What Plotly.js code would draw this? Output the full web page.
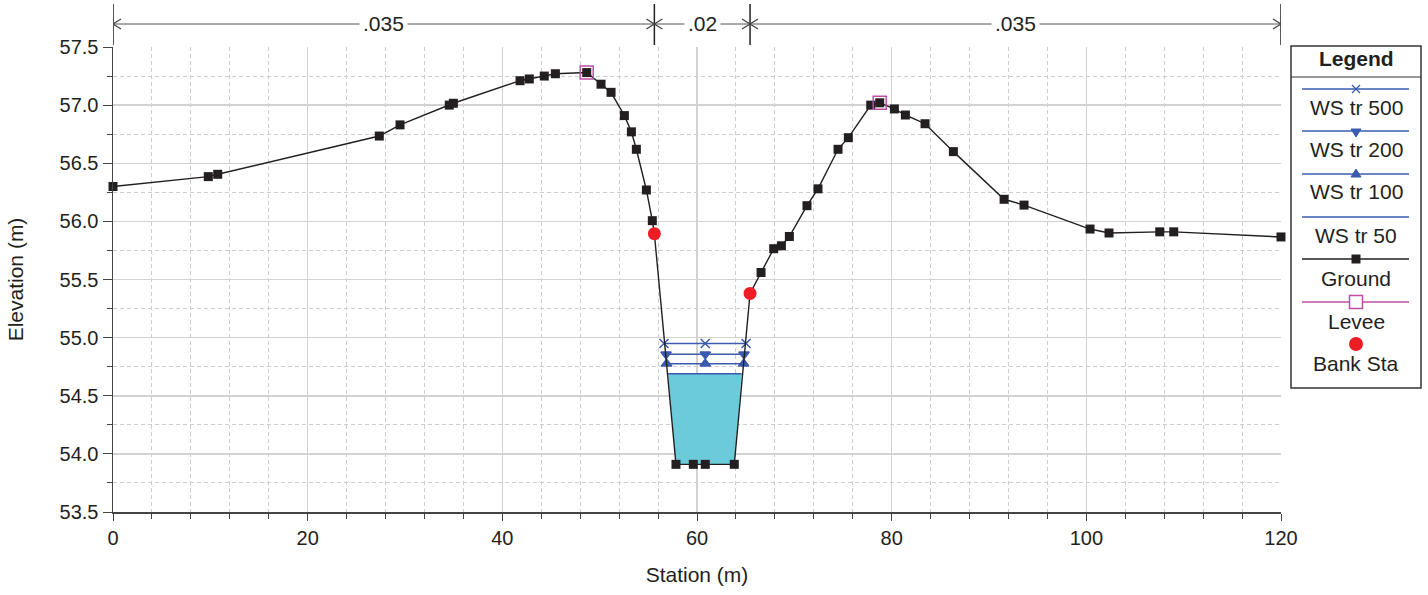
<!DOCTYPE html>
<html>
<head>
<meta charset="utf-8">
<script src="https://cdn.plot.ly/plotly-3.0.1.min.js"></script>
<style>html,body{margin:0;padding:0;background:#fff;}#chart{width:1428px;height:595px;}</style>
</head>
<body>
<div id="chart"></div>
<script>
// ---------------- data ----------------
const groundStation = [0, 9.79, 10.76, 27.36, 29.49, 34.55, 34.97, 41.82, 42.77, 44.31, 45.45, 48.67,
  50.14, 51.17, 52.54, 53.26, 53.77, 54.80, 55.41, 55.62, 57.84, 59.62, 60.85, 63.83, 65.45,
  66.58, 67.88, 68.67, 69.49, 71.30, 72.43, 74.49, 75.55, 77.85, 78.77, 80.28, 81.41, 83.43,
  86.34, 91.55, 93.60, 100.38, 102.33, 107.54, 108.98, 120.0];
const groundElev = [56.30, 56.385, 56.405, 56.734, 56.83, 57.00, 57.016, 57.21, 57.225, 57.25, 57.27, 57.28,
  57.18, 57.11, 56.91, 56.77, 56.62, 56.27, 56.006, 55.894, 53.91, 53.91, 53.91, 53.91, 55.38,
  55.56, 55.765, 55.79, 55.87, 56.135, 56.28, 56.62, 56.72, 57.00, 57.02, 56.967, 56.915, 56.84,
  56.60, 56.19, 56.14, 55.934, 55.90, 55.91, 55.91, 55.866];

const leveeStation = [48.67, 78.77];
const leveeElev = [57.28, 57.02];

const bankStation = [55.62, 65.45];
const bankElev = [55.894, 55.38];

const wsNames = ['WS tr 500', 'WS tr 200', 'WS tr 100', 'WS tr 50'];
const wsElev = [54.95, 54.857, 54.776, 54.69];
const wsLeft = [56.61, 56.82, 56.88, 57.03];
const wsMid = [60.85, 60.85, 60.85, 60.85];
const wsRight = [65.04, 64.83, 64.80, 64.59];

const nValues = [0.035, 0.02, 0.035];
const nBreaks = [0, 55.62, 65.45, 120];

const xTickVals = [0, 20, 40, 60, 80, 100, 120];
const xTickText = ['0', '20', '40', '60', '80', '100', '120'];
const yTickVals = [53.5, 54.0, 54.5, 55.0, 55.5, 56.0, 56.5, 57.0, 57.5];
const yTickText = ['53.5', '54.0', '54.5', '55.0', '55.5', '56.0', '56.5', '57.0', '57.5'];

const legendTitle = 'Legend';
const legendLabels = ['WS tr 500', 'WS tr 200', 'WS tr 100', 'WS tr 50', 'Ground', 'Levee', 'Bank Sta'];

// ---------------- styling ----------------
const FONT = 'Liberation Sans, Arial, Helvetica, sans-serif';
const TXT = '#231F20';
const BLUE = '#3A5BB0';
const WATER = '#6CCBDB';
const GROUND = '#231F20';
const LEVEE = '#BE4FA6';
const BANK = '#EE1C25';
const AXIS = '#444444';
const GRID = '#D2D2D2';
const GRID_MINOR = '#CDCDCD';

const W = 1428, H = 595, L = 113, R = 1281, T = 47, B = 512;
const pxX = x => (x - L) / (R - L);
const pxY = y => (B - y) / (B - T);
const mPerPx = 120 / (R - L);

// ---------------- traces ----------------
const traces = [];

// water fill under WS tr 50
const fillX = [wsLeft[3]], fillY = [wsElev[3]];
for (let i = 0; i < groundStation.length; i++) {
  if (groundStation[i] > wsLeft[3] && groundStation[i] < wsRight[3]) {
    fillX.push(groundStation[i]); fillY.push(groundElev[i]);
  }
}
fillX.push(wsRight[3]); fillY.push(wsElev[3]);
traces.push({x: fillX, y: fillY, mode: 'lines', fill: 'toself', fillcolor: WATER,
  line: {width: 0, color: WATER}, hoverinfo: 'skip', showlegend: false});

const wsSymbols = ['x-thin-open', 'triangle-down', 'triangle-up', null];
for (let k = 0; k < 4; k++) {
  const t = {x: [wsLeft[k], wsMid[k], wsRight[k]], y: [wsElev[k], wsElev[k], wsElev[k]],
    name: wsNames[k], line: {color: BLUE, width: 1.5}, showlegend: false, cliponaxis: false};
  if (wsSymbols[k]) {
    t.mode = 'lines+markers';
    t.marker = {symbol: wsSymbols[k], size: 9, color: BLUE, line: {color: BLUE, width: 1.5}};
  } else t.mode = 'lines';
  traces.push(t);
}

traces.push({x: groundStation, y: groundElev, name: 'Ground', mode: 'lines+markers',
  line: {color: GROUND, width: 1.4}, marker: {symbol: 'square', size: 9, color: GROUND},
  cliponaxis: false, showlegend: false});

traces.push({x: leveeStation, y: leveeElev, name: 'Levee', mode: 'markers',
  marker: {symbol: 'square-open', size: 13, color: LEVEE, line: {width: 1.5, color: LEVEE}},
  cliponaxis: false, showlegend: false});

traces.push({x: bankStation, y: bankElev, name: 'Bank Sta', mode: 'markers',
  marker: {symbol: 'circle', size: 13, color: BANK}, cliponaxis: false, showlegend: false});

// ---------------- shapes / annotations ----------------
const shapes = [], annotations = [];

// n-value bar above plot
const yTopV = pxY(4), yBotV = pxY(45), yArr = pxY(24);
const dxA = 8 * mPerPx, dyA = 5 / (B - T);
nBreaks.forEach(s => {
  shapes.push({type: 'line', xref: 'x', yref: 'paper', x0: s, x1: s, y0: yBotV, y1: yTopV,
    line: {color: '#222', width: 1.5}});
});
for (let i = 0; i < nValues.length; i++) {
  const a = nBreaks[i], b = nBreaks[i + 1];
  shapes.push({type: 'line', xref: 'x', yref: 'paper', x0: a, x1: b, y0: yArr, y1: yArr,
    line: {color: '#555', width: 1}});
  shapes.push({type: 'path', xref: 'x', yref: 'paper',
    path: `M ${a + dxA} ${yArr + dyA} L ${a} ${yArr} L ${a + dxA} ${yArr - dyA}`,
    line: {color: '#444', width: 1.3}});
  shapes.push({type: 'path', xref: 'x', yref: 'paper',
    path: `M ${b - dxA} ${yArr + dyA} L ${b} ${yArr} L ${b - dxA} ${yArr - dyA}`,
    line: {color: '#444', width: 1.3}});
  annotations.push({xref: 'x', yref: 'paper', x: (a + b) / 2, y: yArr, showarrow: false,
    text: String(nValues[i]).replace(/^0/, ''), bgcolor: '#fff', borderpad: 3,
    font: {family: FONT, size: 21, color: TXT}, xanchor: 'center', yanchor: 'middle'});
}

// custom legend box
const lgL = 1291, lgR = 1421, lgT = 46, lgB = 388, lgC = 1356, lx0 = 1302, lx1 = 1409;
shapes.push({type: 'rect', xref: 'paper', yref: 'paper', x0: pxX(lgL), x1: pxX(lgR), y0: pxY(lgB), y1: pxY(lgT),
  line: {color: '#333', width: 1.5}, fillcolor: '#fff', layer: 'above'});
shapes.push({type: 'line', xref: 'paper', yref: 'paper', x0: pxX(lgL), x1: pxX(lgR), y0: pxY(77), y1: pxY(77),
  line: {color: '#333', width: 1.2}});
annotations.push({xref: 'paper', yref: 'paper', x: pxX(lgC), y: pxY(59), text: '<b>' + legendTitle + '</b>',
  showarrow: false, font: {family: FONT, size: 21, color: TXT}, xanchor: 'center', yanchor: 'middle'});

const lineY = [89, 131, 174, 217, 259, 302];
const textY = [107, 149, 192, 235, 278, 321, 363];
const lineCol = [BLUE, BLUE, BLUE, BLUE, GROUND, LEVEE];
for (let i = 0; i < 6; i++) {
  shapes.push({type: 'line', xref: 'paper', yref: 'paper', x0: pxX(lx0), x1: pxX(lx1), y0: pxY(lineY[i]), y1: pxY(lineY[i]),
    line: {color: lineCol[i], width: 1.5}});
}
for (let i = 0; i < 7; i++) {
  annotations.push({xref: 'paper', yref: 'paper', x: pxX(lgC), y: pxY(textY[i]), text: legendLabels[i],
    showarrow: false, font: {family: FONT, size: 21, color: TXT}, xanchor: 'center', yanchor: 'middle'});
}
const P = (x, y) => `${pxX(x)} ${pxY(y)}`;
// x marker
shapes.push({type: 'path', xref: 'paper', yref: 'paper', path: `M ${P(lgC - 4, 85)} L ${P(lgC + 4, 93)} M ${P(lgC - 4, 93)} L ${P(lgC + 4, 85)}`,
  line: {color: BLUE, width: 1.3}});
// triangle down
shapes.push({type: 'path', xref: 'paper', yref: 'paper', path: `M ${P(lgC - 5, 129)} L ${P(lgC + 5, 129)} L ${P(lgC, 137)} Z`,
  line: {color: BLUE, width: 1}, fillcolor: BLUE});
// triangle up
shapes.push({type: 'path', xref: 'paper', yref: 'paper', path: `M ${P(lgC - 5, 177)} L ${P(lgC + 5, 177)} L ${P(lgC, 169)} Z`,
  line: {color: BLUE, width: 1}, fillcolor: BLUE});
// ground square
shapes.push({type: 'rect', xref: 'paper', yref: 'paper', x0: pxX(lgC - 4.5), x1: pxX(lgC + 4.5), y0: pxY(263.5), y1: pxY(254.5),
  line: {color: GROUND, width: 0}, fillcolor: GROUND});
// levee open square
shapes.push({type: 'rect', xref: 'paper', yref: 'paper', x0: pxX(lgC - 6.5), x1: pxX(lgC + 6.5), y0: pxY(308.5), y1: pxY(295.5),
  line: {color: LEVEE, width: 1.5}, fillcolor: '#fff'});
// bank circle
shapes.push({type: 'circle', xref: 'paper', yref: 'paper', x0: pxX(lgC - 7), x1: pxX(lgC + 7), y0: pxY(351), y1: pxY(337),
  line: {color: BANK, width: 0}, fillcolor: BANK});

// ---------------- layout ----------------
const layout = {
  width: W, height: H,
  margin: {l: L, r: W - R, t: T, b: H - B, pad: 0},
  paper_bgcolor: '#fff', plot_bgcolor: '#fff',
  font: {family: FONT, size: 20, color: TXT},
  showlegend: false,
  xaxis: {
    range: [0, 120], tickmode: 'array', tickvals: xTickVals, ticktext: xTickText,
    ticks: 'outside', ticklen: 7, tickwidth: 1, tickcolor: AXIS,
    showline: true, linecolor: AXIS, linewidth: 1.5, zeroline: false,
    showgrid: true, gridcolor: GRID, gridwidth: 1.5,
    minor: {tickmode: 'linear', tick0: 0, dtick: 4, ticks: 'outside', ticklen: 5, tickcolor: AXIS,
      showgrid: true, gridcolor: GRID_MINOR, griddash: '4px,3px', gridwidth: 1},
    tickfont: {family: FONT, size: 20, color: TXT},
    title: {text: 'Station (m)', font: {family: FONT, size: 21, color: TXT}, standoff: 20},
    automargin: false, fixedrange: true
  },
  yaxis: {
    range: [53.5, 57.5], tickmode: 'array', tickvals: yTickVals, ticktext: yTickText,
    ticks: 'outside', ticklen: 9, tickwidth: 1, tickcolor: AXIS,
    showline: true, linecolor: AXIS, linewidth: 1.5, zeroline: false,
    showgrid: true, gridcolor: GRID, gridwidth: 1.5,
    minor: {tickmode: 'linear', tick0: 53.5, dtick: 0.25, ticks: 'outside', ticklen: 5, tickcolor: AXIS,
      showgrid: true, gridcolor: GRID_MINOR, griddash: '4px,3px', gridwidth: 1},
    tickfont: {family: FONT, size: 20, color: TXT},
    title: {text: 'Elevation (m)', font: {family: FONT, size: 21, color: TXT}, standoff: 30},
    automargin: false, fixedrange: true
  },
  shapes: shapes,
  annotations: annotations
};

Plotly.newPlot('chart', traces, layout, {displayModeBar: false, staticPlot: true});
</script>
</body>
</html>
